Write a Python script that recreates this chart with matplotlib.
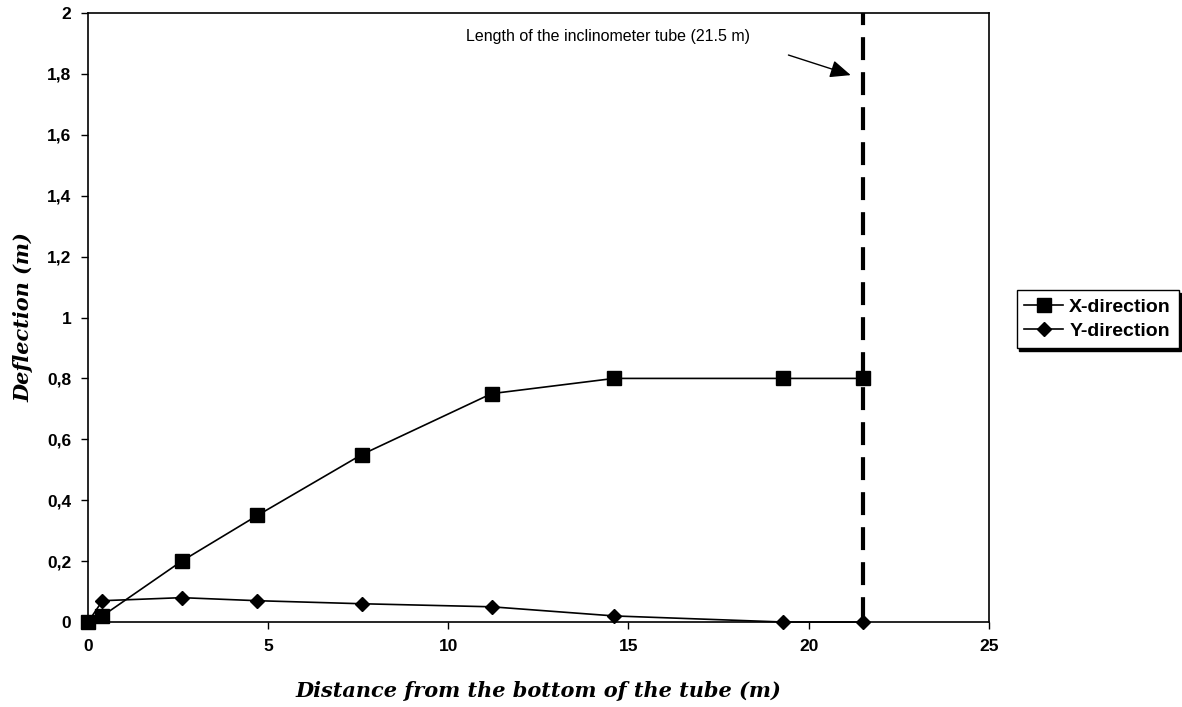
import matplotlib
matplotlib.use("Agg")
import matplotlib.pyplot as plt

# Inclinometer readings along the tube
distance = [0, 0.4, 2.6, 4.7, 7.6, 11.2, 14.6, 19.3, 21.5]
x_deflection = [0, 0.02, 0.2, 0.35, 0.55, 0.75, 0.8, 0.8, 0.8]
y_deflection = [0, 0.07, 0.08, 0.07, 0.06, 0.05, 0.02, 0, 0]
tube_length = 21.5

x_ticks = [0, 5, 10, 15, 20, 25]
y_ticks = [0, 0.2, 0.4, 0.6, 0.8, 1, 1.2, 1.4, 1.6, 1.8, 2]
y_tick_labels = ["0", "0,2", "0,4", "0,6", "0,8", "1", "1,2", "1,4", "1,6", "1,8", "2"]

plt.rcParams["font.family"] = ["Liberation Sans", "DejaVu Sans"]

fig = plt.figure(figsize=(11.82, 7.07), dpi=100)
ax = fig.add_axes([0.0745, 0.1202, 0.762, 0.8614])

ax.plot(distance, x_deflection, color="black", lw=1.2, marker="s", ms=10,
        label="X-direction", clip_on=False, zorder=3)
ax.plot(distance, y_deflection, color="black", lw=1.2, marker="D", ms=7.5,
        label="Y-direction", clip_on=False, zorder=3)

# vertical marker for the end of the tube, dashed from the top down
ax.plot([tube_length, tube_length], [2, 0], color="black", lw=3,
        linestyle=(2.6, (5.5, 2.9)), zorder=2, clip_on=False)
ax.text(10.49, 1.924, "Length of the inclinometer tube (21.5 m)",
        ha="left", va="center", fontsize=11.5)
ax.annotate("", xy=(21.17, 1.796), xytext=(19.44, 1.862),
            arrowprops=dict(arrowstyle="-|>,head_length=0.7,head_width=0.3",
                            color="black", lw=1, mutation_scale=18,
                            shrinkA=0, shrinkB=0))

ax.set_xlim(0, 25)
ax.set_ylim(0, 2)
ax.set_xticks(x_ticks)
ax.set_yticks(y_ticks)
ax.set_yticklabels(y_tick_labels)
ax.tick_params(direction="out", length=5, width=1, labelsize=12.5, pad=7)
for lab in ax.get_xticklabels() + ax.get_yticklabels():
    lab.set_fontweight("bold")
for sp in ax.spines.values():
    sp.set_linewidth(1.2)

ax.set_xlabel("Distance from the bottom of the tube (m)", family="DejaVu Serif",
              style="italic", weight="bold", fontsize=15, labelpad=20)
ax.set_ylabel("Deflection (m)", family="DejaVu Serif",
              style="italic", weight="bold", fontsize=15, labelpad=10)

leg = ax.legend(loc="center left", bbox_to_anchor=(1.031, 0.4975), frameon=True,
                fancybox=False, shadow={"color": "black", "alpha": 1},
                edgecolor="black", prop={"weight": "bold", "size": 14},
                handlelength=2.0, handletextpad=0.3, borderpad=0.4,
                labelspacing=0.35, borderaxespad=0)
leg.get_frame().set_linewidth(1)

fig.savefig("out.png", dpi=100)
